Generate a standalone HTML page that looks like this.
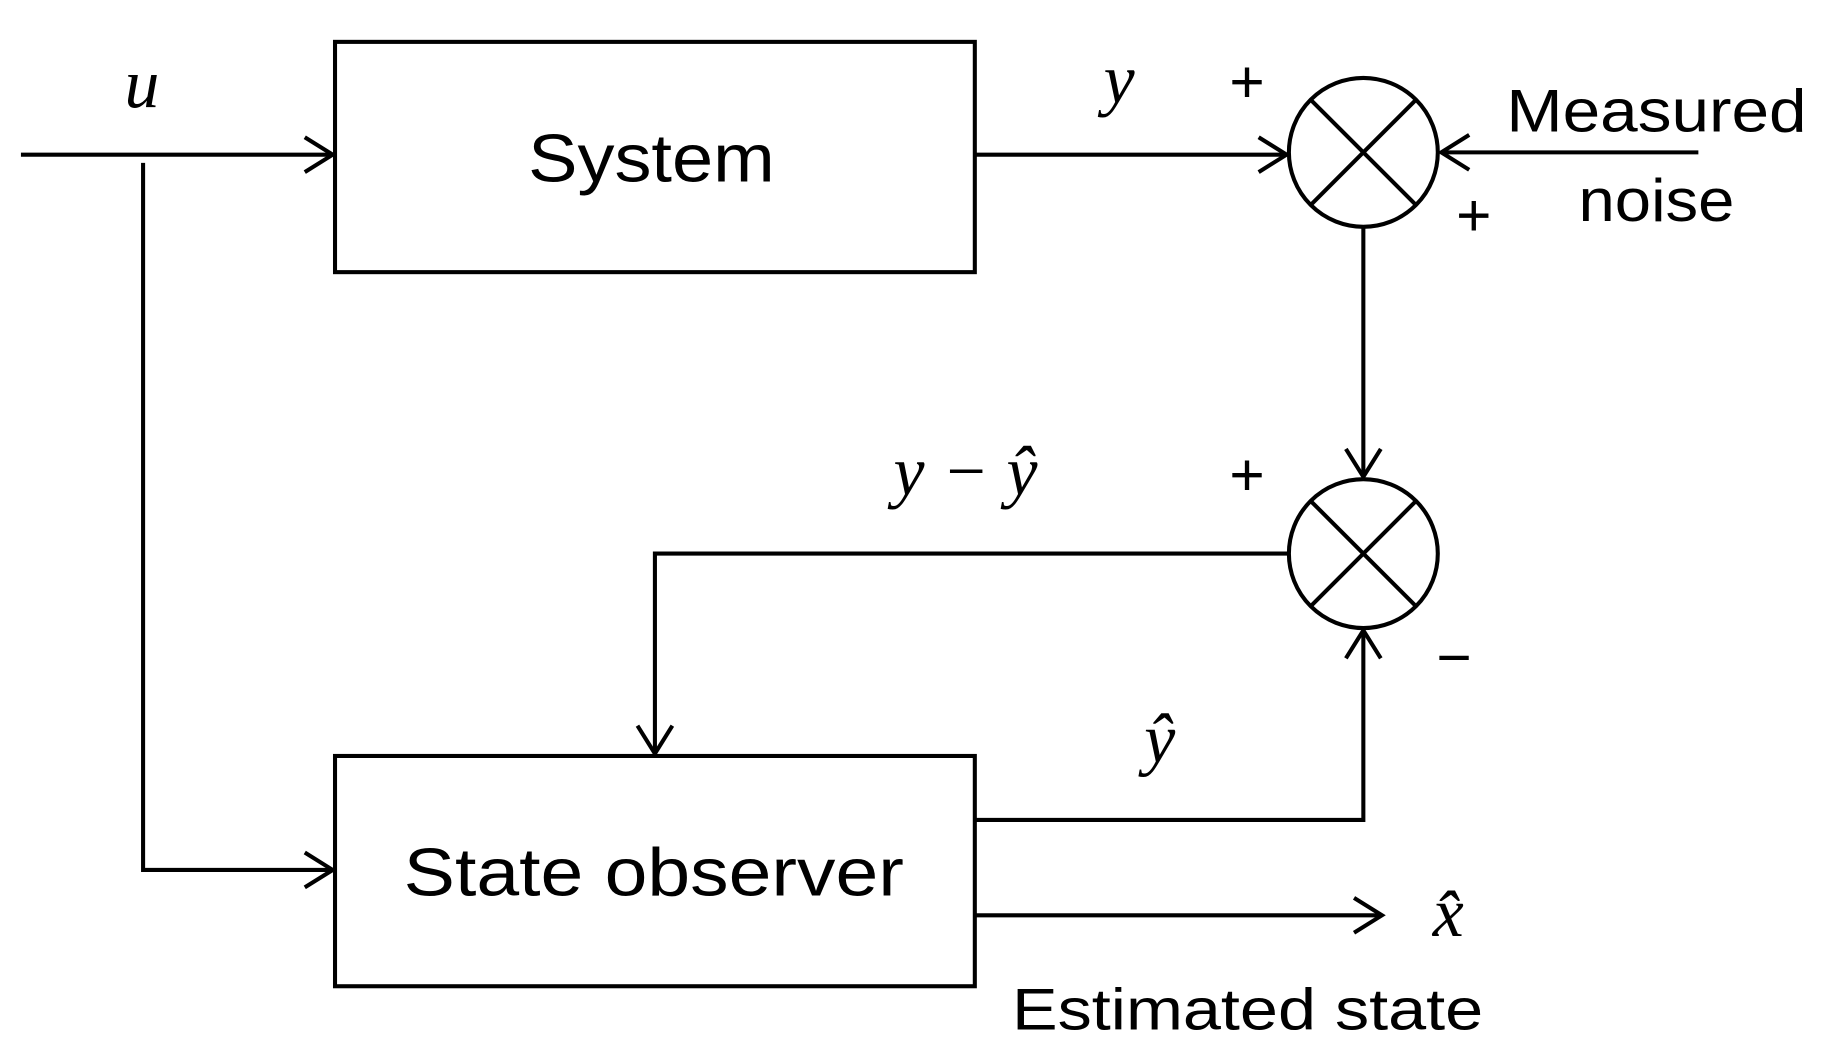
<!DOCTYPE html>
<html><head><meta charset="utf-8"><style>
html,body{margin:0;padding:0;background:#fff;}
svg{display:block;}
.t{font-family:"Liberation Sans",sans-serif;fill:#000;}
.m{font-family:"Liberation Serif",serif;font-style:italic;fill:#000;}
</style></head><body>
<svg width="1824" height="1063" viewBox="0 0 1568 914" preserveAspectRatio="none" xmlns="http://www.w3.org/2000/svg">
<g fill="none" stroke="#000" stroke-width="3.5">
<rect x="288" y="36" width="550" height="198"/>
<rect x="288" y="650" width="550" height="198"/>
<line x1="18" y1="133" x2="286" y2="133"/>
<polyline points="262,118 286,133 262,148"/>
<polyline points="123,140 123,748 286,748"/>
<polyline points="262,733 286,748 262,763"/>
<line x1="838" y1="133" x2="1106" y2="133"/>
<polyline points="1082,118 1106,133 1082,148"/>
<ellipse cx="1172" cy="131" rx="64" ry="64"/>
<line x1="1127" y1="86" x2="1217" y2="176"/>
<line x1="1217" y1="86" x2="1127" y2="176"/>
<line x1="1460" y1="131" x2="1239" y2="131"/>
<polyline points="1263,116 1239,131 1263,146"/>
<line x1="1172" y1="195" x2="1172" y2="410"/>
<polyline points="1157,386 1172,410 1187,386"/>
<ellipse cx="1172" cy="476" rx="64" ry="64"/>
<line x1="1127" y1="431" x2="1217" y2="521"/>
<line x1="1217" y1="431" x2="1127" y2="521"/>
<polyline points="1108,476 563,476 563,648"/>
<polyline points="548,624 563,648 578,624"/>
<polyline points="838,705 1172,705 1172,542"/>
<polyline points="1157,566 1172,542 1187,566"/>
<line x1="838" y1="787" x2="1188" y2="787"/>
<polyline points="1164,772 1188,787 1164,802"/>
</g>
<text class="t" x="560" y="156" font-size="58" text-anchor="middle" textLength="212" lengthAdjust="spacingAndGlyphs">System</text>
<text class="t" x="562" y="770" font-size="58" text-anchor="middle" textLength="430" lengthAdjust="spacingAndGlyphs">State observer</text>
<text class="t" x="1295" y="113" font-size="52" textLength="258" lengthAdjust="spacingAndGlyphs">Measured</text>
<text class="t" x="1357" y="190" font-size="52" textLength="134" lengthAdjust="spacingAndGlyphs">noise</text>
<text class="t" x="870" y="885" font-size="50" textLength="405" lengthAdjust="spacingAndGlyphs">Estimated state</text>
<text class="t" x="1072" y="88" font-size="52" text-anchor="middle">+</text>
<text class="t" x="1267" y="203" font-size="52" text-anchor="middle">+</text>
<text class="t" x="1072" y="426" font-size="52" text-anchor="middle">+</text>
<text class="t" x="1250" y="583" font-size="52" text-anchor="middle">−</text>
<text class="m" x="122" y="92" font-size="60" text-anchor="middle">u</text>
<text class="m" x="962" y="88" font-size="60" text-anchor="middle">y</text>
<text class="m" x="830" y="425" font-size="60" text-anchor="middle">y − ŷ</text>
<text class="m" x="997" y="655" font-size="60" text-anchor="middle">ŷ</text>
<text class="m" x="1245" y="805" font-size="60" text-anchor="middle">x̂</text>
</svg>
</body></html>
